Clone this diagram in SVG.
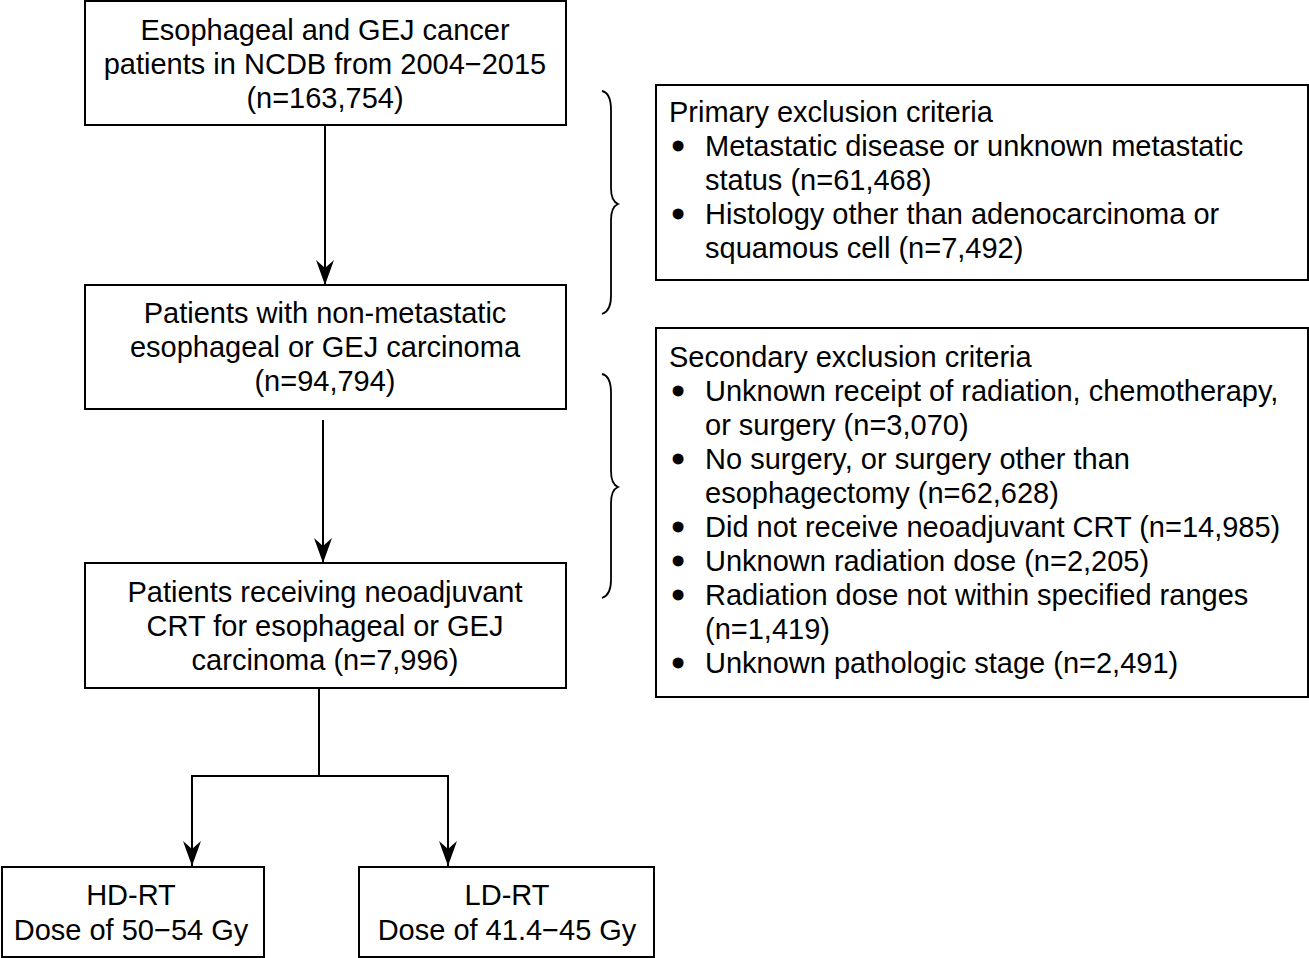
<svg xmlns="http://www.w3.org/2000/svg" width="1309" height="958" viewBox="0 0 1309 958">
<style>
.box{fill:#fff;stroke:#000;stroke-width:2}
text{font-family:"Liberation Sans",Arial,Helvetica,sans-serif;font-size:29px;fill:#000}
.c{text-anchor:middle}
.b{text-anchor:middle;stroke:#000;stroke-width:3;stroke-linejoin:round}
.ln{fill:none;stroke:#000;stroke-width:2}
.br{fill:none;stroke:#000;stroke-width:1.8}
</style>
<defs>
<marker id="ah" markerUnits="userSpaceOnUse" markerWidth="26" markerHeight="20" viewBox="0 -10 26 20" refX="25" refY="0" orient="auto">
<path d="M0,-9 L25,0 L0,9 L8,0 Z" fill="#000"/>
</marker>
</defs>
<rect width="1309" height="958" fill="#fff"/>
<g id="connectors">
<line class="ln" x1="325" y1="125" x2="325" y2="285" marker-end="url(#ah)"/>
<line class="ln" x1="323" y1="420" x2="323" y2="563" marker-end="url(#ah)"/>
<line class="ln" x1="319" y1="688" x2="319" y2="777"/>
<path class="ln" d="M320,776 L192,776 L192,866" marker-end="url(#ah)"/>
<path class="ln" d="M318,776 L448,776 L448,866" marker-end="url(#ah)"/>
<path class="br" d="M602,91 Q611,93 611,110 L611,188 Q611,201 618,204 Q611,207 611,220 L611,296 Q611,311 602,314"/>
<path class="br" d="M602,374 Q611,376 611,393 L611,471 Q611,484 618,487 Q611,490 611,503 L611,580 Q611,595 602,598"/>
</g>
<g id="n1">
<rect class="box" x="85" y="1" width="481" height="124"/>
<text class="c" x="325" y="40">Esophageal and GEJ cancer</text>
<text class="c" x="325" y="74">patients in NCDB from 2004−2015</text>
<text class="c" x="325" y="108">(n=163,754)</text>
</g>
<g id="n2">
<rect class="box" x="85" y="285" width="481" height="124"/>
<text class="c" x="325" y="323">Patients with non-metastatic</text>
<text class="c" x="325" y="357">esophageal or GEJ carcinoma</text>
<text class="c" x="325" y="391">(n=94,794)</text>
</g>
<g id="n3">
<rect class="box" x="85" y="563" width="481" height="125"/>
<text class="c" x="325" y="602">Patients receiving neoadjuvant</text>
<text class="c" x="325" y="636">CRT for esophageal or GEJ</text>
<text class="c" x="325" y="670">carcinoma (n=7,996)</text>
</g>
<g id="n4">
<rect class="box" x="2" y="867" width="262" height="90"/>
<text class="c" x="131" y="905">HD-RT</text>
<text class="c" x="131" y="940">Dose of 50−54 Gy</text>
</g>
<g id="n5">
<rect class="box" x="359" y="867" width="295" height="90"/>
<text class="c" x="507" y="905">LD-RT</text>
<text class="c" x="507" y="940">Dose of 41.4−45 Gy</text>
</g>
<g id="n6">
<rect class="box" x="656" y="85" width="652" height="195"/>
<text x="669" y="122">Primary exclusion criteria</text>
<text class="b" x="678" y="156">•</text><text x="705" y="156">Metastatic disease or unknown metastatic</text>
<text x="705" y="190">status (n=61,468)</text>
<text class="b" x="678" y="224">•</text><text x="705" y="224">Histology other than adenocarcinoma or</text>
<text x="705" y="258">squamous cell (n=7,492)</text>
</g>
<g id="n7">
<rect class="box" x="656" y="328" width="652" height="369"/>
<text x="669" y="367">Secondary exclusion criteria</text>
<text class="b" x="678" y="401">•</text><text x="705" y="401">Unknown receipt of radiation, chemotherapy,</text>
<text x="705" y="435">or surgery (n=3,070)</text>
<text class="b" x="678" y="469">•</text><text x="705" y="469">No surgery, or surgery other than</text>
<text x="705" y="503">esophagectomy (n=62,628)</text>
<text class="b" x="678" y="537">•</text><text x="705" y="537">Did not receive neoadjuvant CRT (n=14,985)</text>
<text class="b" x="678" y="571">•</text><text x="705" y="571">Unknown radiation dose (n=2,205)</text>
<text class="b" x="678" y="605">•</text><text x="705" y="605">Radiation dose not within specified ranges</text>
<text x="705" y="639">(n=1,419)</text>
<text class="b" x="678" y="673">•</text><text x="705" y="673">Unknown pathologic stage (n=2,491)</text>
</g>
</svg>
